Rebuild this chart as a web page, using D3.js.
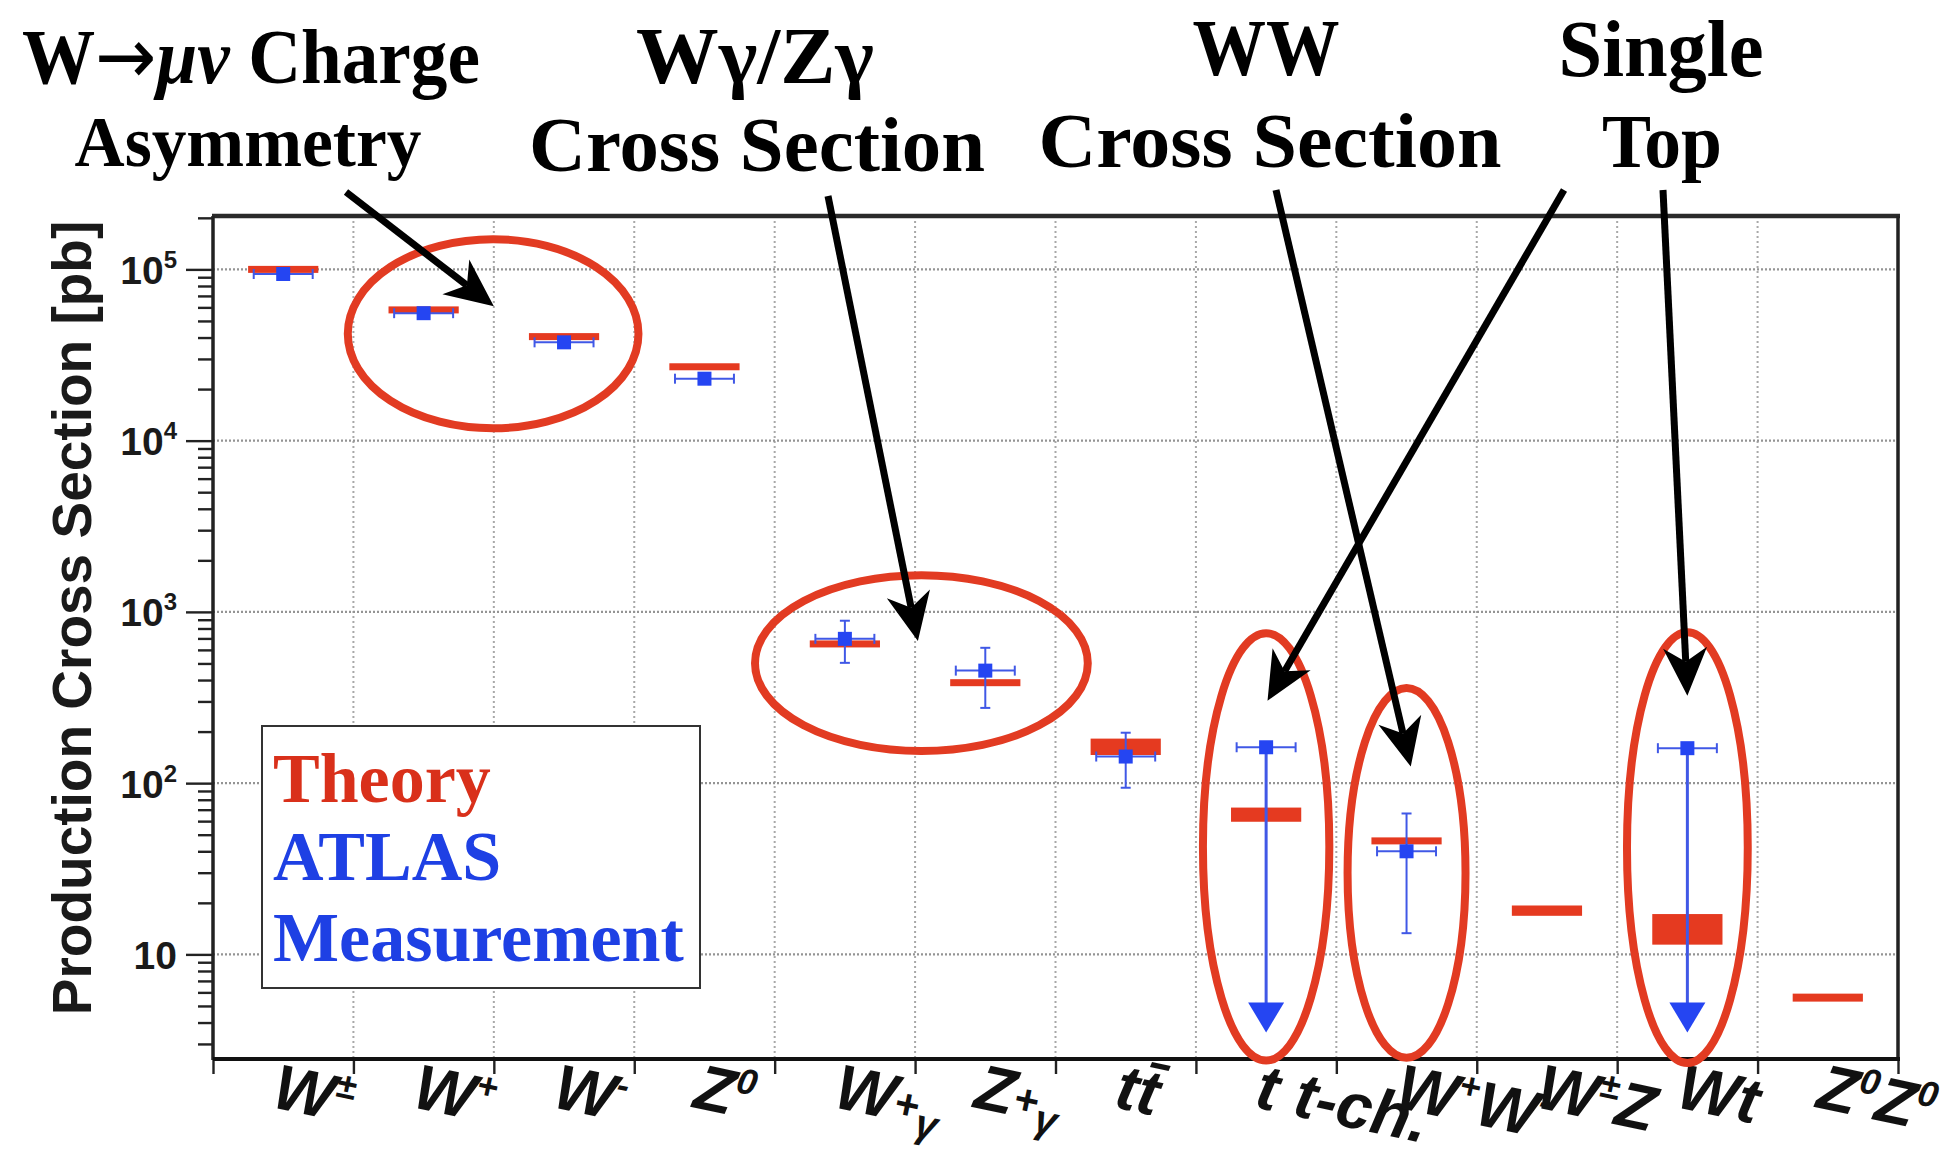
<!DOCTYPE html>
<html>
<head>
<meta charset="utf-8">
<script src="https://cdn.jsdelivr.net/npm/d3@7"></script>
<style>
  html, body { margin: 0; padding: 0; background: #fff; }
  svg { display: block; }
</style>
</head>
<body>
<svg id="chart" width="1943" height="1160"></svg>
<script>
// ---- Data: LHC production cross sections (pb), theory vs ATLAS measurement ----
const processes = ["W±", "W+", "W-", "Z0", "W+γ", "Z+γ", "ttbar", "t t-ch.", "W+W-", "W±Z", "Wt", "Z0Z0"];

// axis labels, split into runs: [text, role]
const tickLabels = [
  [["W"], ["±", "sup"]],
  [["W"], ["+", "sup"]],
  [["W"], ["-", "sup"]],
  [["Z"], ["0", "sup"]],
  [["W"], ["+", "mid"], ["γ", "sub"]],
  [["Z"], ["+", "mid"], ["γ", "sub"]],
  [["t"], ["t\u0304"]],
  [["t t-ch."]],
  [["W"], ["+", "sup"], ["W"], ["-", "sup"]],
  [["W"], ["±", "sup"], ["Z"]],
  [["Wt"]],
  [["Z"], ["0", "sup"], ["Z"], ["0", "sup"]]
];

// theory prediction: central value and band
const theoryValue = [1.0e5, 5.8e4, 4.05e4, 2.7e4, 650, 386, 164, 65, 46, 18, 14.2, 5.6];
const theoryLow   = [0.97e5, 5.62e4, 3.92e4, 2.6e4, 625, 369, 146, 59.5, 44.2, 16.8, 11.4, 5.3];
const theoryHigh  = [1.03e5, 5.98e4, 4.18e4, 2.8e4, 676, 404, 182, 72, 47.9, 19.3, 17.2, 5.9];

// ATLAS measurement with total uncertainty (null = not measured)
const measValue = [9.4e4, 5.55e4, 3.75e4, 2.3e4, 696, 454, 143, null, 40, null, null, null];
const measLow   = [9.0e4, 5.3e4, 3.6e4, 2.15e4, 504, 275, 94, null, 13.3, null, null, null];
const measHigh  = [9.8e4, 5.8e4, 3.9e4, 2.45e4, 888, 617, 197, null, 66.5, null, null, null];

// ATLAS upper limits (pb), drawn as downward arrows
const upperLimit = [null, null, null, null, null, null, null, 162, null, null, 160, null];
const limitArrowFloor = 3.5;

// y axis decades
const yMajorTicks = [10, 100, 1e3, 1e4, 1e5];

// ---- Layout ----
const L = 213, R = 1898, T = 216, B = 1059;
const RED = "#e53a20", BLUE = "#2545f2", BLUE_LINE = "#4058e6";
const svg = d3.select("#chart");

const x = d3.scaleBand().domain(d3.range(processes.length)).range([L, R]);
const xEdge = d3.scaleLinear().domain([0, processes.length]).range([L, R]);
const y = d3.scaleLog().domain([2.45, 2.05e5]).range([B, T]);
const bw = x.bandwidth();
const cx = i => x(i) + bw / 2;

// ---- Grid ----
const grid = svg.append("g");
grid.selectAll("line.v").data(d3.range(1, processes.length)).join("line")
  .attr("x1", d => xEdge(d)).attr("x2", d => xEdge(d))
  .attr("y1", T).attr("y2", B)
  .attr("stroke", "#a8a8a8").attr("stroke-width", 2).attr("stroke-dasharray", "2,3");
grid.selectAll("line.h").data(yMajorTicks).join("line")
  .attr("x1", L).attr("x2", R)
  .attr("y1", d => y(d)).attr("y2", d => y(d))
  .attr("stroke", "#949494").attr("stroke-width", 2.4).attr("stroke-dasharray", "2,2");

// ---- Axes ----
const minorTicks = [];
[1, 10, 100, 1e3, 1e4, 1e5].forEach(dec => {
  for (let k = 2; k <= 9; k++) {
    const v = k * dec;
    if (v >= y.domain()[0] && v <= y.domain()[1]) minorTicks.push(v);
  }
});

const yMinor = svg.append("g").attr("transform", `translate(${L},0)`)
  .call(d3.axisLeft(y).tickValues(minorTicks).tickSize(15).tickFormat(""));
const yMajor = svg.append("g").attr("transform", `translate(${L},0)`)
  .call(d3.axisLeft(y).tickValues(yMajorTicks).tickSize(27).tickPadding(10).tickFormat(""));
[yMinor, yMajor].forEach(g => {
  g.select(".domain").remove();
  g.selectAll(".tick line").attr("stroke", "#222").attr("stroke-width", 2.4);
});

// decade labels: 10, 10^2 ... 10^5
yMajor.selectAll(".tick text").each(function (d) {
  const t = d3.select(this).text("")
    .attr("x", -36).attr("dy", "0.36em")
    .attr("text-anchor", "end")
    .attr("font-family", "'Liberation Sans', Arial, sans-serif")
    .attr("font-weight", "bold").attr("font-size", 39).attr("fill", "#1a1a1a");
  const e = Math.round(Math.log10(d));
  t.append("tspan").text("10");
  if (e > 1) t.append("tspan").attr("font-size", 24).attr("dy", -16).text(e);
});

const xAxis = svg.append("g").attr("transform", `translate(0,${B})`)
  .call(d3.axisBottom(xEdge).tickValues(d3.range(0, processes.length + 1)).tickSize(15).tickFormat(""));
xAxis.select(".domain").remove();
xAxis.selectAll(".tick line").attr("stroke", "#222").attr("stroke-width", 2.4);

// plot frame
svg.append("line").attr("x1", L - 1).attr("x2", R + 2).attr("y1", T).attr("y2", T)
  .attr("stroke", "#2a2a2a").attr("stroke-width", 4.5);
svg.append("line").attr("x1", R).attr("x2", R).attr("y1", T).attr("y2", B)
  .attr("stroke", "#222").attr("stroke-width", 3.5);
svg.append("line").attr("x1", L).attr("x2", L).attr("y1", T).attr("y2", B + 1)
  .attr("stroke", "#222").attr("stroke-width", 3.5);
svg.append("line").attr("x1", L).attr("x2", R + 2).attr("y1", B).attr("y2", B)
  .attr("stroke", "#111").attr("stroke-width", 4);

// ---- x labels ----
const roleStyle = {
  base: { size: 64, shift: 0 },
  sup:  { size: 36, shift: -24 },
  mid:  { size: 42, shift: -4 },
  sub:  { size: 40, shift: 11 }
};
const xl = svg.append("g")
  .attr("font-family", "'Liberation Sans', Arial, sans-serif")
  .attr("font-weight", "bold").attr("font-style", "italic").attr("fill", "#111");
tickLabels.forEach((parts, i) => {
  const t = xl.append("text")
    .attr("transform", `translate(${cx(i) - 13},${B + 48}) rotate(12)`)
    .attr("font-size", roleStyle.base.size);
  let cur = 0;
  parts.forEach(([txt, role]) => {
    const st = roleStyle[role || "base"];
    t.append("tspan").attr("font-size", st.size).attr("dy", st.shift - cur).text(txt);
    cur = st.shift;
  });
});

// y title
svg.append("text")
  .attr("transform", `translate(91,618) rotate(-90)`)
  .attr("text-anchor", "middle")
  .attr("font-family", "'Liberation Sans', Arial, sans-serif")
  .attr("font-weight", "bold").attr("font-size", 55).attr("fill", "#1a1a1a")
  .text("Production Cross Section [pb]");

// ---- Theory bands ----
const idx = d3.range(processes.length);
svg.append("g").selectAll("rect").data(idx).join("rect")
  .attr("x", i => cx(i) - bw * 0.25)
  .attr("width", bw * 0.5)
  .attr("y", i => {
    const h = y(theoryLow[i]) - y(theoryHigh[i]);
    return h < 7 ? y(theoryValue[i]) - 3.5 : y(theoryHigh[i]);
  })
  .attr("height", i => Math.max(7, y(theoryLow[i]) - y(theoryHigh[i])))
  .attr("fill", RED);

// ---- Measurements ----
const meas = idx.filter(i => measValue[i] !== null);
const mg = svg.append("g");
const hw = bw * 0.21, cap = 5;
meas.forEach(i => {
  const c = cx(i), yv = y(measValue[i]), y0 = y(measLow[i]), y1 = y(measHigh[i]);
  const g = mg.append("g").attr("stroke", BLUE_LINE).attr("stroke-width", 2);
  g.append("line").attr("x1", c).attr("x2", c).attr("y1", y1).attr("y2", y0);
  g.append("line").attr("x1", c - cap).attr("x2", c + cap).attr("y1", y1).attr("y2", y1);
  g.append("line").attr("x1", c - cap).attr("x2", c + cap).attr("y1", y0).attr("y2", y0);
  g.append("line").attr("x1", c - hw).attr("x2", c + hw).attr("y1", yv).attr("y2", yv);
  g.append("line").attr("x1", c - hw).attr("x2", c - hw).attr("y1", yv - cap).attr("y2", yv + cap);
  g.append("line").attr("x1", c + hw).attr("x2", c + hw).attr("y1", yv - cap).attr("y2", yv + cap);
  mg.append("rect").attr("x", c - 7).attr("y", yv - 7).attr("width", 14).attr("height", 14)
    .attr("fill", BLUE);
});

// upper limits
idx.filter(i => upperLimit[i] !== null).forEach(i => {
  const c = cx(i), yl = y(upperLimit[i]), yf = y(limitArrowFloor);
  const g = mg.append("g").attr("stroke", BLUE_LINE);
  g.append("line").attr("x1", c).attr("x2", c).attr("y1", yl).attr("y2", yf - 20).attr("stroke-width", 3);
  g.append("line").attr("x1", c - hw).attr("x2", c + hw).attr("y1", yl).attr("y2", yl).attr("stroke-width", 2);
  g.append("line").attr("x1", c - hw).attr("x2", c - hw).attr("y1", yl - cap).attr("y2", yl + cap).attr("stroke-width", 2);
  g.append("line").attr("x1", c + hw).attr("x2", c + hw).attr("y1", yl - cap).attr("y2", yl + cap).attr("stroke-width", 2);
  mg.append("path").attr("d", `M${c - 18},${yf - 30}L${c + 18},${yf - 30}L${c},${yf}Z`).attr("fill", BLUE);
  mg.append("rect").attr("x", c - 7).attr("y", yl - 7).attr("width", 14).attr("height", 14).attr("fill", BLUE);
});

// ---- Legend ----
const lg = svg.append("g");
lg.append("rect").attr("x", 262).attr("y", 726).attr("width", 438).attr("height", 262)
  .attr("fill", "#fff").attr("stroke", "#333").attr("stroke-width", 2);
const legendItems = [["Theory", "#d9301a", 802], ["ATLAS", "#1e40e4", 880], ["Measurement", "#1e40e4", 961]];
lg.selectAll("text").data(legendItems).join("text")
  .attr("x", 273).attr("y", d => d[2]).attr("fill", d => d[1])
  .attr("font-family", "'Liberation Serif', 'Times New Roman', serif")
  .attr("font-weight", "bold").attr("font-size", 70)
  .text(d => d[0]);

// ---- Highlight ellipses (edge-index span, value span) ----
const highlights = [
  { i0: 0.96, i1: 3.03, vTop: 1.5e5, vBot: 1.18e4 },
  { i0: 3.86, i1: 6.23, vTop: 1637, vBot: 154 },
  { i0: 7.05, i1: 7.95, vTop: 751, vBot: 2.40 },
  { i0: 8.08, i1: 8.92, vTop: 359, vBot: 2.49 },
  { i0: 10.07, i1: 10.93, vTop: 760, vBot: 2.32 }
];
svg.append("g").selectAll("ellipse").data(highlights).join("ellipse")
  .attr("cx", d => (xEdge(d.i0) + xEdge(d.i1)) / 2)
  .attr("cy", d => (y(d.vTop) + y(d.vBot)) / 2)
  .attr("rx", d => (xEdge(d.i1) - xEdge(d.i0)) / 2)
  .attr("ry", d => (y(d.vBot) - y(d.vTop)) / 2)
  .attr("fill", "none").attr("stroke", "#e23b22").attr("stroke-width", 8);

// ---- Annotation titles ----
const serif = "'Liberation Serif', 'Times New Roman', serif";
const titles = [
  { parts: [["W"], ["→", "a"], ["μν", "i"], [" Charge"]], x: 251, y: 83, size: 78, len: 458 },
  { parts: [["Asymmetry"]], x: 248, y: 166, size: 72, len: 347 },
  { parts: [["Wγ/Zγ"]], x: 755, y: 83, size: 80, len: 238 },
  { parts: [["Cross Section"]], x: 757, y: 171, size: 78, len: 456 },
  { parts: [["WW"]], x: 1266, y: 75, size: 80, len: 147 },
  { parts: [["Cross Section"]], x: 1270, y: 167, size: 78, len: 463 },
  { parts: [["Single"]], x: 1661, y: 76, size: 80, len: 205 },
  { parts: [["Top"]], x: 1662, y: 167, size: 76, len: 120 }
];
titles.forEach(d => {
  const t = svg.append("text").attr("x", d.x).attr("y", d.y)
    .attr("text-anchor", "middle")
    .attr("font-family", serif).attr("font-weight", "bold").attr("font-size", d.size)
    .attr("fill", "#000")
    .attr("textLength", d.len).attr("lengthAdjust", "spacingAndGlyphs");
  d.parts.forEach(([txt, st]) => {
    const s = t.append("tspan").text(txt);
    if (st === "i") s.attr("font-style", "italic");
    if (st === "a") s.attr("font-family", "'DejaVu Sans', sans-serif").attr("font-weight", "normal");
  });
});

// ---- Arrows from titles to the highlighted measurements ----
const pointers = [
  { from: [346, 192], i: 2.0, v: 6.1e4 },
  { from: [828, 196], i: 5.02, v: 676 },
  { from: [1276, 190], i: 8.53, v: 125 },
  { from: [1564, 190], i: 7.51, v: 303 },
  { from: [1663, 190], i: 10.5, v: 324 }
];
const ag = svg.append("g");
pointers.forEach(p => {
  const [x1, y1] = p.from, x2 = xEdge(p.i), y2 = y(p.v);
  const dx = x2 - x1, dy = y2 - y1, len = Math.hypot(dx, dy);
  const ux = dx / len, uy = dy / len, nx = -uy, ny = ux;
  const head = 48, half = 22, notch = 14;
  const bx = x2 - ux * head, by = y2 - uy * head;
  const mx = x2 - ux * (head - notch), my = y2 - uy * (head - notch);
  ag.append("line").attr("x1", x1).attr("y1", y1).attr("x2", mx).attr("y2", my)
    .attr("stroke", "#000").attr("stroke-width", 7);
  ag.append("path")
    .attr("d", `M${x2},${y2}L${bx + nx * half},${by + ny * half}L${mx},${my}L${bx - nx * half},${by - ny * half}Z`)
    .attr("fill", "#000");
});
</script>
</body>
</html>
